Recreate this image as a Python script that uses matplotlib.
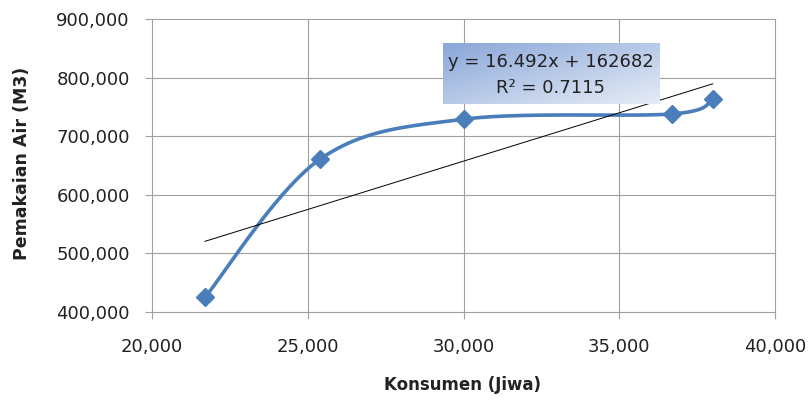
import numpy as np
from matplotlib import pyplot as plt
from matplotlib.colors import LinearSegmentedColormap
from matplotlib.ticker import FuncFormatter

# data
konsumen = [21700, 25400, 30000, 36700, 38000]
pemakaian = [425000, 661000, 729000, 738000, 763000]
slope = 16.492
intercept = 162682
r2 = 0.7115

xticks = [20000, 25000, 30000, 35000, 40000]
yticks = [400000, 500000, 600000, 700000, 800000, 900000]


def excel_smooth(xs, ys, n=40):
    # Bezier smoothing similar to Excel's "smoothed line", done in axis-normalised space
    px = (np.array(xs) - 20000) / 20000.0
    py = (np.array(ys) - 400000) / 500000.0 * (293 / 623.0)
    P = np.column_stack([px, py])
    out = []
    for i in range(len(P) - 1):
        p0 = P[i - 1] if i > 0 else P[i]
        p1 = P[i]
        p2 = P[i + 1]
        p3 = P[i + 2] if i + 2 < len(P) else P[i + 1]
        c1 = p1 + (p2 - p0) / 6.0
        c2 = p2 - (p3 - p1) / 6.0
        t = np.linspace(0, 1, n)[:, None]
        seg = ((1 - t) ** 3) * p1 + 3 * ((1 - t) ** 2) * t * c1 + 3 * (1 - t) * t ** 2 * c2 + t ** 3 * p2
        out.append(seg)
    out = np.vstack(out)
    sx = out[:, 0] * 20000 + 20000
    sy = out[:, 1] / (293 / 623.0) * 500000 + 400000
    return sx, sy


fig = plt.figure(figsize=(8.08, 4.01), dpi=100)
ax = fig.add_axes([152 / 808, 1 - 312 / 401, 623 / 808, 293 / 401])

ax.set_xlim(20000, 40000)
ax.set_ylim(400000, 900000)
ax.set_xticks(xticks)
ax.set_yticks(yticks)
fmt = FuncFormatter(lambda v, p: '{:,.0f}'.format(v))
ax.xaxis.set_major_formatter(fmt)
ax.yaxis.set_major_formatter(fmt)
ax.grid(True, color='#a0a0a0', linewidth=0.8)
ax.set_axisbelow(True)
for l in ax.get_xgridlines() + ax.get_ygridlines():
    l.set_clip_on(False)
for s in ax.spines.values():
    s.set_visible(False)
ax.tick_params(axis='both', length=5, width=0.8, color='#a0a0a0', labelsize=13, labelcolor='#222222')
ax.tick_params(axis='x', pad=14)
ax.tick_params(axis='y', pad=11)

# smoothed series
sx, sy = excel_smooth(konsumen, pemakaian)
ax.plot(sx, sy, color='#4a7ebb', linewidth=2.6, solid_capstyle='round', zorder=3)
ax.plot(konsumen, pemakaian, linestyle='none', marker='D', markersize=9,
        color='#4a7ebb', zorder=4)

# linear trendline
tx = np.array([min(konsumen), max(konsumen)])
ax.plot(tx, slope * tx + intercept, color='black', linewidth=0.7, zorder=5)

# equation box with gradient (dark top-left, light bottom-right)
x0, x1 = (443 - 152) / 623, (659 - 152) / 623
y0, y1 = (312 - 104) / 293, (312 - 43) / 293
g = np.linspace(0, 1, 100)
grad = ((1 - g)[None, :] + (1 - g)[:, None]) / 2
cmap = LinearSegmentedColormap.from_list('b', ['#e6ecf6', '#8aa7d9'])
ax.imshow(grad, cmap=cmap, extent=[x0, x1, y0, y1], transform=ax.transAxes,
          aspect='auto', zorder=6, origin='upper', vmin=0, vmax=1)
ax.set_xlim(20000, 40000)
ax.set_ylim(400000, 900000)
ax.text((x0 + x1) / 2, (312 - 62) / 293, 'y = {}x + {}'.format(slope, intercept),
        transform=ax.transAxes, ha='center', va='center', fontsize=13,
        color='#222222', zorder=7)
ax.text((x0 + x1) / 2, (312 - 88) / 293, 'R² = {}'.format(r2),
        transform=ax.transAxes, ha='center', va='center', fontsize=13,
        color='#222222', zorder=7)

fig.text(463 / 808, 1 - 385 / 401, 'Konsumen (Jiwa)', ha='center', va='center',
         fontsize=12, fontweight='bold', color='#222222')
fig.text(22 / 808, 1 - 163 / 401, 'Pemakaian Air (M3)', ha='center', va='center',
         rotation=90, fontsize=12.5, fontweight='bold', color='#222222')

fig.savefig('out.png', dpi=100)
